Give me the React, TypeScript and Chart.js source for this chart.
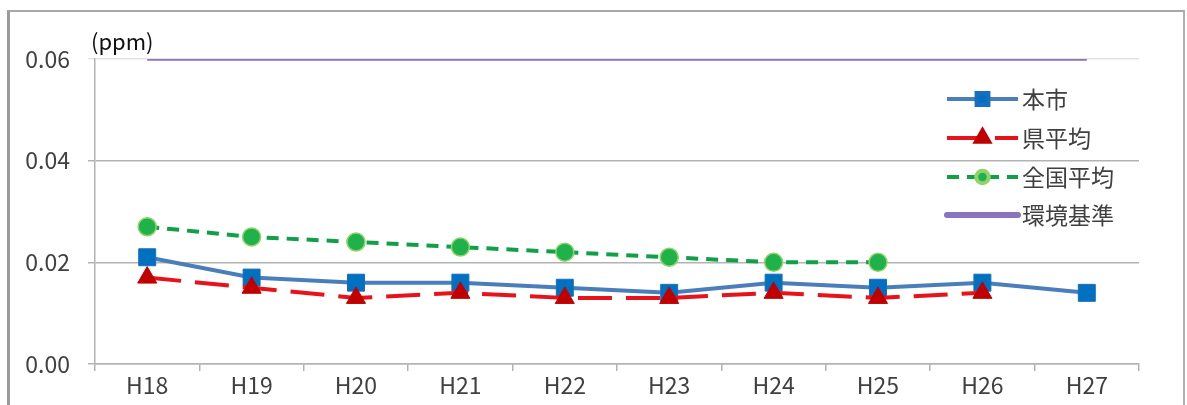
import React, { useEffect, useRef } from 'react';
import { Chart, registerables } from 'chart.js';
import { drawPoint } from 'chart.js/helpers';

Chart.register(...registerables);

const categories = ['H18', 'H19', 'H20', 'H21', 'H22', 'H23', 'H24', 'H25', 'H26', 'H27'];
const cityValues = [0.021, 0.017, 0.016, 0.016, 0.015, 0.014, 0.016, 0.015, 0.016, 0.014];
const prefValues = [0.017, 0.015, 0.013, 0.014, 0.013, 0.013, 0.014, 0.013, 0.014, null];
const nationalValues = [0.027, 0.025, 0.024, 0.023, 0.022, 0.021, 0.02, 0.02, null, null];
const standardValues = [0.06, 0.06, 0.06, 0.06, 0.06, 0.06, 0.06, 0.06, 0.06, 0.06];
const seriesNames = ['本市', '県平均', '全国平均', '環境基準'];
const yTickValues = [0, 0.02, 0.04, 0.06];
const unitLabel = '(ppm)';

const FONT = "'Noto Sans CJK JP', 'Noto Sans', sans-serif";

const legendPlugin = {
  id: 'customLegend',
  afterDraw(chart: any) {
    const ctx = chart.ctx;
    const x0 = 947;
    const x1 = 1018;
    const textX = 1022;
    const rows = [99, 138, 177, 215];
    chart.data.datasets.forEach((ds: any, i: number) => {
      const y = rows[i];
      ctx.save();
      ctx.strokeStyle = ds.borderColor;
      ctx.lineWidth = ds.pointRadius > 0 ? ds.borderWidth : 6;
      ctx.setLineDash(ds.borderDash || []);
      ctx.lineCap = ds.pointRadius > 0 ? 'butt' : 'round';
      ctx.beginPath();
      ctx.moveTo(x0, y);
      ctx.lineTo(x1, y);
      ctx.stroke();
      ctx.setLineDash([]);
      if (ds.pointRadius > 0) {
        ctx.fillStyle = ds.pointBackgroundColor;
        ctx.strokeStyle = ds.pointBorderColor;
        drawPoint(ctx, {
          pointStyle: ds.pointStyle,
          rotation: 0,
          radius: ds.pointRadius * 0.7,
          borderWidth: ds.pointBorderWidth,
        }, (x0 + x1) / 2, y);
      }
      ctx.fillStyle = '#404040';
      ctx.font = `23px ${FONT}`;
      ctx.textBaseline = 'middle';
      ctx.textAlign = 'left';
      ctx.fillText(ds.label, textX, y);
      ctx.restore();
    });
  },
};

const unitPlugin = {
  id: 'unitLabel',
  afterDraw(chart: any) {
    const ctx = chart.ctx;
    ctx.save();
    ctx.fillStyle = '#111111';
    ctx.font = `22px ${FONT}`;
    ctx.textBaseline = 'middle';
    ctx.textAlign = 'left';
    ctx.fillText(unitLabel, 91, 42);
    ctx.restore();
  },
};

export default function App() {
  const canvasRef = useRef<HTMLCanvasElement | null>(null);

  useEffect(() => {
    if (!canvasRef.current) return;
    const chart = new Chart(canvasRef.current, {
      type: 'line',
      data: {
        labels: categories,
        datasets: [
          {
            label: seriesNames[0],
            data: cityValues,
            borderColor: '#4a7ebb',
            borderWidth: 4,
            pointStyle: 'rect',
            pointRadius: 12,
            pointBackgroundColor: '#0070c0',
            pointBorderColor: '#1a6fbd',
            pointBorderWidth: 1,
            order: 2,
            spanGaps: false,
          },
          {
            label: seriesNames[1],
            data: prefValues,
            borderColor: '#e8121b',
            borderWidth: 4,
            borderDash: [34, 14],
            pointStyle: 'triangle',
            pointRadius: 11,
            pointBackgroundColor: '#c00000',
            pointBorderColor: '#c00000',
            pointBorderWidth: 1,
            order: 1,
          },
          {
            label: seriesNames[2],
            data: nationalValues,
            borderColor: '#0fa048',
            borderWidth: 4,
            borderDash: [12, 8],
            pointStyle: 'circle',
            pointRadius: 9,
            pointBackgroundColor: '#1fb24a',
            pointBorderColor: '#8fd36a',
            pointBorderWidth: 1.5,
            order: 0,
          },
          {
            label: seriesNames[3],
            data: standardValues,
            borderColor: '#8a74bd',
            borderWidth: 3.5,
            pointRadius: 0,
            order: 3,
          },
        ],
      },
      options: {
        responsive: false,
        animation: false,
        devicePixelRatio: 1,
        layout: { padding: { left: 0, top: 59, right: 48, bottom: 0 } },
        plugins: {
          legend: { display: false },
          tooltip: { enabled: false },
        },
        scales: {
          x: {
            type: 'category',
            offset: true,
            grid: {
              offset: true,
              drawOnChartArea: false,
              drawTicks: true,
              tickLength: 7,
              color: '#b3b3b3',
              lineWidth: 1.5,
            },
            border: { color: '#b3b3b3', width: 1.5 },
            ticks: {
              color: '#404040',
              font: { family: FONT, size: 23 },
              padding: 0,
              maxRotation: 0,
            },
            afterFit: (s: any) => {
              s.height = 41;
            },
          },
          y: {
            min: 0,
            max: 0.06,
            afterBuildTicks: (s: any) => {
              s.ticks = yTickValues.map((v) => ({ value: v }));
            },
            grid: {
              color: (c: any) => (c.tick && c.tick.value === 0.06 ? '#e4e4e4' : '#b3b3b3'),
              lineWidth: 1.5,
              tickLength: 7,
            },
            border: { color: '#b3b3b3', width: 1.5 },
            ticks: {
              color: '#404040',
              font: { family: FONT, size: 23 },
              padding: 18,
              callback: (v: any) => Number(v).toFixed(2),
            },
            afterFit: (s: any) => {
              s.width = 95;
            },
          },
        },
      },
      plugins: [legendPlugin, unitPlugin],
    } as any);
    return () => chart.destroy();
  }, []);

  return (
    <div style={{ position: 'fixed', left: 0, top: 0, width: 1187, height: 405, background: '#ffffff', overflow: 'hidden' }}>
      <canvas ref={canvasRef} width={1187} height={405} style={{ position: 'absolute', left: 0, top: 0, width: 1187, height: 405 }} />
      <div
        style={{
          position: 'absolute',
          left: 7,
          top: 10,
          width: 1178,
          height: 420,
          boxSizing: 'border-box',
          borderLeft: '3px solid #9a9a9a',
          borderTop: '2px solid #a8a8a8',
          borderRight: '2px solid #b0b0b0',
          pointerEvents: 'none',
        }}
      />
    </div>
  );
}
